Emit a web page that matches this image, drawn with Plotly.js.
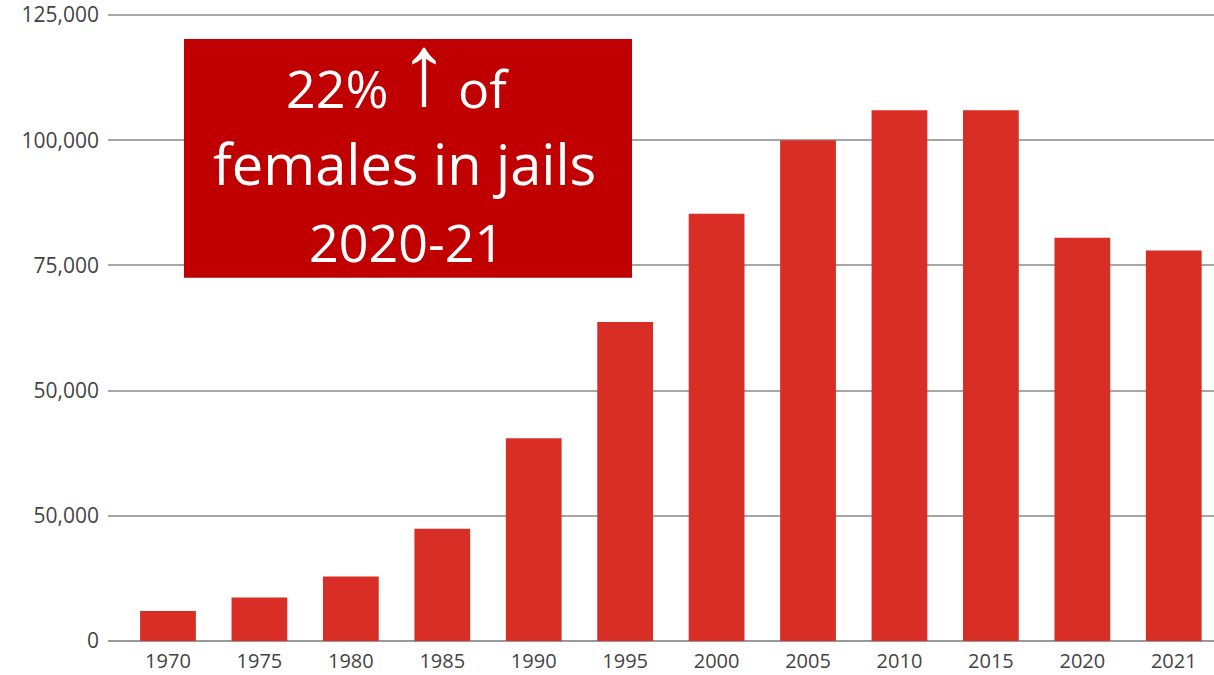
<!DOCTYPE html>
<html>
<head>
<meta charset="utf-8">
<script src="https://cdn.plot.ly/plotly-3.0.1.min.js"></script>
<style>
html,body{margin:0;padding:0;background:#fff;}
#chart{width:1214px;height:675px;}
</style>
</head>
<body>
<div id="chart"></div>
<script>
const years = ["1970","1975","1980","1985","1990","1995","2000","2005","2010","2015","2020","2021"];
const femalesInJail = [6000, 8700, 12900, 22400, 40500, 63700, 85300, 100000, 106000, 106000, 80500, 78000];
const yTickValues = [0, 25000, 50000, 75000, 100000, 125000];
const yTickLabels = ["0", "50,000", "50,000", "75,000", "100,000", "125,000"];
const calloutPercent = "22%";
const calloutArrow = "\u2191";
const calloutOf = "of";
const calloutLine2 = "females in jails";
const calloutLine3 = "2020-21";

const trace = {
  type: "bar",
  x: years,
  y: femalesInJail,
  width: 0.61,
  marker: {color: "#d92e26", line: {width: 0}},
  hoverinfo: "x+y"
};

const boxFont = (size, fam) => ({family: fam || "Open Sans, sans-serif", size: size, color: "#ffffff"});
const ann = (text, x, y, xanchor, font) => ({
  xref: "paper", yref: "paper", x: x, y: y,
  xanchor: xanchor, yanchor: "middle",
  text: text, showarrow: false, font: font
});

const annotations = [
  ann(calloutPercent, 0.255, 0.88, "right", boxFont(52)),
  ann(calloutArrow, 0.2857, 0.9094, "center", boxFont(100, "Liberation Sans, sans-serif")),
  ann(calloutOf, 0.3146, 0.88, "left", boxFont(52)),
  ann(calloutLine2, 0.2685, 0.7607, "center", boxFont(56)),
  ann(calloutLine3, 0.2703, 0.6351, "center", boxFont(52))
];

const layout = {
  width: 1214, height: 675,
  margin: {l: 108, r: 0, t: 12, b: 34, pad: 0},
  paper_bgcolor: "#ffffff",
  plot_bgcolor: "#ffffff",
  showlegend: false,
  font: {family: "Open Sans, sans-serif", size: 21, color: "#444444"},
  xaxis: {
    type: "category",
    range: [-0.656, 11.44],
    showgrid: false,
    showline: false,
    zeroline: false,
    ticks: "",
    ticklabelstandoff: 6,
    tickfont: {family: "Open Sans, sans-serif", size: 20, color: "#444444"},
    fixedrange: true
  },
  yaxis: {
    range: [0, 125600],
    tickmode: "array",
    tickvals: yTickValues,
    ticktext: yTickLabels,
    ticklabeloverflow: "allow",
    showgrid: true,
    gridcolor: "#a6a6a6",
    gridwidth: 2,
    zeroline: true,
    zerolinecolor: "#999999",
    zerolinewidth: 2,
    showline: false,
    ticks: "",
    ticklabelstandoff: 8,
    tickfont: {family: "Open Sans, sans-serif", size: 21, color: "#444444"},
    fixedrange: true
  },
  shapes: [{
    type: "rect", xref: "paper", yref: "paper",
    x0: 0.0687, x1: 0.4738, y0: 0.5776, y1: 0.9571,
    fillcolor: "#c00000", line: {width: 0}, layer: "above"
  }],
  annotations: annotations
};

Plotly.newPlot("chart", [trace], layout, {displayModeBar: false, staticPlot: true});
</script>
</body>
</html>
